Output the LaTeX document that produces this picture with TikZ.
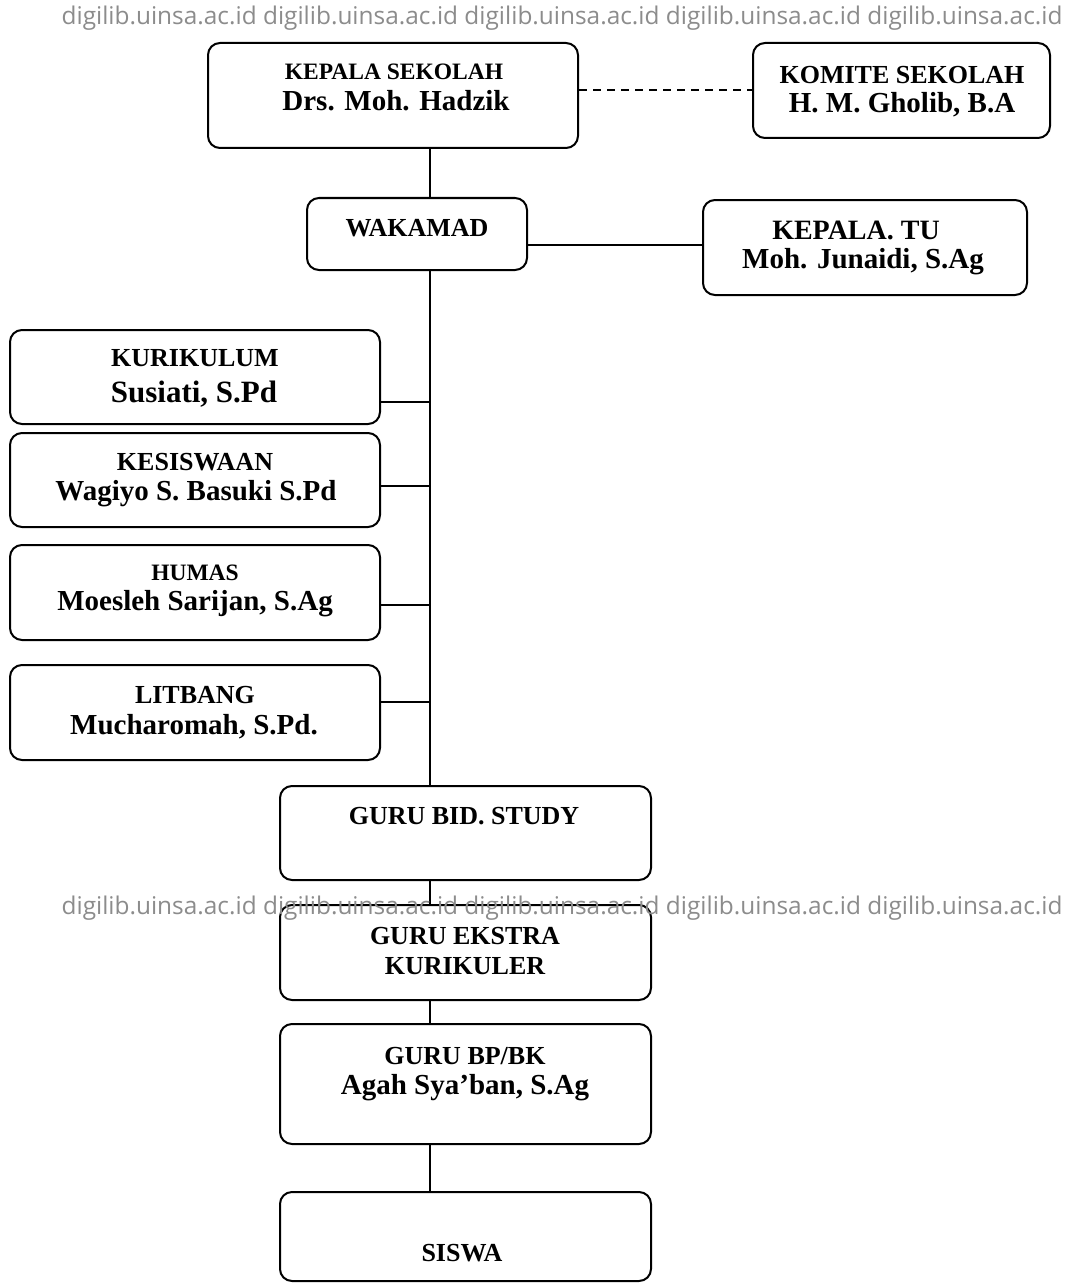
\documentclass[tikz,border=0pt]{standalone}
\usepackage{fontspec}
\setmainfont{Liberation Serif}
\newfontfamily\wmfont{Open Sans}
\begin{document}
\begin{tikzpicture}[x=1pt,y=-1pt,
  box/.style={draw=black, line width=2pt, rounded corners=12pt, rectangle, inner sep=0pt},
  capt/.style={font=\bfseries\fontsize{26}{30}\selectfont, inner sep=0pt},
  namet/.style={font=\bfseries\fontsize{29}{33}\selectfont, inner sep=0pt},
  conn/.style={line width=2pt},
  wm/.style={font=\wmfont\fontsize{24.4}{28}\selectfont, text={rgb,255:red,140;green,140;blue,140}, inner sep=0pt}
]
\useasboundingbox[fill=white] (0,0) rectangle (1069,1284);
\coordinate (trunkx) at (430,0);

% boxes
\node[box, minimum width=370pt, minimum height=105pt] (ks) at (393,95.5) {};
\node[box, minimum width=297pt, minimum height=95pt] (kom) at (901.5,90.5) {};
\node[box, minimum width=220pt, minimum height=72pt] (wk) at (417,234) {};
\node[box, minimum width=324pt, minimum height=95pt] (tu) at (865,247.5) {};
\node[box, minimum width=370pt, minimum height=94pt] (kur) at (195,377) {};
\node[box, minimum width=370pt, minimum height=94pt] (kes) at (195,480) {};
\node[box, minimum width=370pt, minimum height=95pt] (hum) at (195,592.5) {};
\node[box, minimum width=370pt, minimum height=95pt] (lit) at (195,712.5) {};
\node[box, minimum width=371pt, minimum height=94pt] (gb) at (465.5,833) {};
\node[box, minimum width=371pt, minimum height=95pt] (ge) at (465.5,952.5) {};
\node[box, minimum width=371pt, minimum height=120pt] (bp) at (465.5,1084) {};
\node[box, minimum width=371pt, minimum height=89pt] (sis) at (465.5,1236.5) {};

% texts
\node[capt, font=\bfseries\fontsize{23.5}{28}\selectfont] (ks1) at (394,72) {KEPALA SEKOLAH};
\node[namet] (ks2) at (396,101) {Drs. Moh. Hadzik};
\node[capt] (kom1) at (902,75) {KOMITE SEKOLAH};
\node[namet] (kom2) at (902,105) {H. M. Gholib, B.A};
\node[capt] (wk1) at (417,228) {WAKAMAD};
\node[capt, font=\bfseries\fontsize{28}{32}\selectfont] (tu1) at (856,230) {KEPALA. TU};
\node[namet] (tu2) at (863,262) {Moh. Junaidi, S.Ag};
\node[capt] (kur1) at (195,358) {KURIKULUM};
\node[namet, font=\bfseries\fontsize{31}{35}\selectfont] (kur2) at (194,394) {Susiati, S.Pd};
\node[capt] (kes1) at (195,462) {KESISWAAN};
\node[namet] (kes2) at (196,494) {Wagiyo S. Basuki S.Pd};
\node[capt, font=\bfseries\fontsize{23.5}{28}\selectfont] (hum1) at (195,573) {HUMAS};
\node[namet] (hum2) at (195,604) {Moesleh Sarijan, S.Ag};
\node[capt] (lit1) at (195,695) {LITBANG};
\node[namet] (lit2) at (194,727) {Mucharomah, S.Pd.};
\node[capt] (gb1) at (464,816) {GURU BID. STUDY};
\node[capt] (ge1) at (465,936) {GURU EKSTRA};
\node[capt] (ge2) at (465,966) {KURIKULER};
\node[capt] (bp1) at (465,1056) {GURU BP/BK};
\node[namet] (bp2) at (465,1088) {Agah Sya’ban, S.Ag};
\node[capt] (sis1) at (462,1253) {SISWA};

% connectors
\draw[conn, dash pattern=on 8pt off 6pt] (ks.east |- kom.west) -- (kom.west);
\draw[conn] (ks.south -| trunkx) -- (wk.north -| trunkx);
\draw[conn] ([yshift=-11pt]wk.east) -- ([yshift=-11pt]wk.east -| tu.west);
\draw[conn] (wk.south -| trunkx) -- (gb.north -| trunkx);
\draw[conn] ([yshift=-25pt]kur.east) -- ([yshift=-25pt]kur.east -| trunkx);
\draw[conn] ([yshift=-6pt]kes.east) -- ([yshift=-6pt]kes.east -| trunkx);
\draw[conn] ([yshift=-12.5pt]hum.east) -- ([yshift=-12.5pt]hum.east -| trunkx);
\draw[conn] ([yshift=10.5pt]lit.east) -- ([yshift=10.5pt]lit.east -| trunkx);
\draw[conn] (gb.south -| trunkx) -- (ge.north -| trunkx);
\draw[conn] (ge.south -| trunkx) -- (bp.north -| trunkx);
\draw[conn] (bp.south -| trunkx) -- (sis.north -| trunkx);

% watermark
\node[wm] (wmA) at (562,18) {digilib.uinsa.ac.id digilib.uinsa.ac.id digilib.uinsa.ac.id digilib.uinsa.ac.id digilib.uinsa.ac.id};
\node[wm] (wmB) at (562,908) {digilib.uinsa.ac.id digilib.uinsa.ac.id digilib.uinsa.ac.id digilib.uinsa.ac.id digilib.uinsa.ac.id};
\end{tikzpicture}
\end{document}
